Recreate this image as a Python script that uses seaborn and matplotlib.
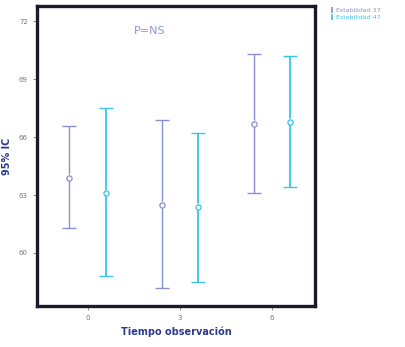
import numpy as np
import pandas as pd
import matplotlib.pyplot as plt
import seaborn as sns

# data
tiempos = [0, 3, 6]
grupos = ['Estabilidad 37', 'Estabilidad 47']
media_37 = [63.9, 62.5, 66.7]
inf_37 = [61.3, 58.2, 63.1]
sup_37 = [66.6, 66.9, 70.3]
media_47 = [63.1, 62.4, 66.8]
inf_47 = [58.8, 58.5, 63.4]
sup_47 = [67.5, 66.2, 70.2]

sns.set_style("white")
plt.rcParams['font.family'] = ['DejaVu Sans']

df = pd.DataFrame({
    'Tiempo': tiempos * 2,
    'Grupo': [grupos[0]] * 3 + [grupos[1]] * 3,
    'Media': media_37 + media_47,
    'Inf': inf_37 + inf_47,
    'Sup': sup_37 + sup_47,
})
offsets = {grupos[0]: -0.6, grupos[1]: 0.6}
colores = {grupos[0]: '#8a8fd0', grupos[1]: '#3cc3e6'}
df['x'] = df['Tiempo'] + df['Grupo'].map(offsets)

fig = plt.figure(figsize=(4.06, 3.47), dpi=100)
ax = fig.add_axes([0.091, 0.118, 0.685, 0.865])

for g in grupos:
    d = df[df['Grupo'] == g]
    ax.errorbar(d['x'], d['Media'],
                yerr=[d['Media'] - d['Inf'], d['Sup'] - d['Media']],
                fmt='none', ecolor=colores[g], elinewidth=1.3 if g == grupos[1] else 1.0,
                capsize=5, capthick=1.0)
sns.scatterplot(data=df, x='x', y='Media', hue='Grupo', palette=colores,
                ax=ax, marker='o', s=14, linewidth=0.9, legend=False, zorder=3)
for g in grupos:
    d = df[df['Grupo'] == g]
    ax.scatter(d['x'], d['Media'], s=14, facecolors='white',
               edgecolors=colores[g], linewidths=0.9, zorder=4)

ax.set_xlim(-1.66, 7.4)
ax.set_ylim(57.25, 72.8)
ax.set_xticks(tiempos)
ax.set_yticks([60, 63, 66, 69, 72])
ax.tick_params(axis='both', labelsize=5, colors='#777777', length=3, width=0.6,
               direction='out', bottom=True, left=True)
for s in ax.spines.values():
    s.set_linewidth(2.4)
    s.set_color('#1a1a2a')

ax.set_xlabel('Tiempo observación', fontsize=7, fontweight='bold', color='#2e3a8c',
              labelpad=4)
ax.set_ylabel('95% IC', fontsize=7, fontweight='bold', color='#2e3a8c', labelpad=5)
ax.text(2.0, 71.5, 'P=NS', fontsize=8, color='#8c95e0', ha='center', va='center')

# small legend glyphs like the reference
handles = [plt.Line2D([], [], color=colores[g], marker='|', markersize=5,
                      linestyle='none', markeredgewidth=1.2) for g in grupos]
fig.legend(handles, grupos, loc='upper left', bbox_to_anchor=(0.8, 0.995),
           fontsize=4.5, frameon=False, handlelength=0.4, handletextpad=0.5,
           labelspacing=0.3, labelcolor=[colores[g] for g in grupos])

fig.savefig('out.png', dpi=100)
